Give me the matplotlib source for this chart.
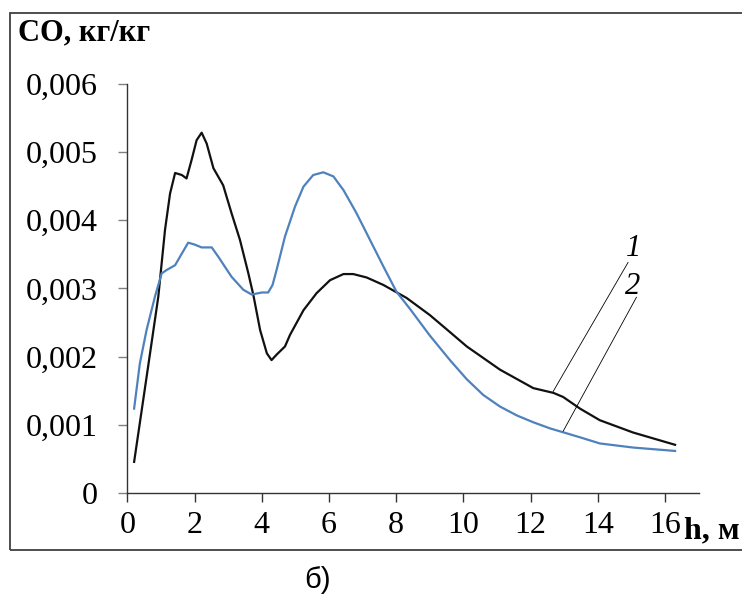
import matplotlib.pyplot as plt
from matplotlib.patches import Rectangle

# curve 1 (black)
h1 = [0.2, 0.6, 0.92, 1.12, 1.27, 1.42, 1.62, 1.76, 1.91, 2.06, 2.21, 2.36, 2.56,
      2.85, 3.10, 3.35, 3.60, 3.75, 3.95, 4.15, 4.29, 4.44, 4.69, 4.84, 5.24, 5.63,
      6.03, 6.43, 6.72, 7.12, 7.62, 8.31, 9.0, 9.6, 10.1, 11.09, 12.08, 12.68, 12.97,
      13.47, 14.06, 15.05, 16.3]
co1 = [0.00046, 0.0018, 0.00288, 0.00386, 0.00439, 0.00469, 0.00466, 0.00461, 0.00488,
       0.00517, 0.00528, 0.00512, 0.00476, 0.00451, 0.0041, 0.00371, 0.00322, 0.00290,
       0.00239, 0.00205, 0.00195, 0.00203, 0.00215, 0.00232, 0.00268, 0.00293, 0.00312,
       0.00321, 0.00321, 0.00316, 0.00305, 0.00286, 0.00261, 0.00236, 0.00215, 0.00181,
       0.00154, 0.00147, 0.00141, 0.00124, 0.00107, 0.00089, 0.00071]

# curve 2 (blue)
h2 = [0.2, 0.37, 0.57, 0.82, 1.02, 1.17, 1.42, 1.62, 1.81, 2.01, 2.21, 2.51, 2.71,
      3.10, 3.45, 3.70, 4.00, 4.19, 4.32, 4.44, 4.69, 4.99, 5.24, 5.53, 5.83, 6.13,
      6.43, 6.82, 7.22, 7.62, 8.01, 8.41, 9.0, 9.6, 10.1, 10.59, 11.09, 11.59, 12.08,
      12.58, 13.47, 14.06, 15.05, 16.3]
co2 = [0.00124, 0.0019, 0.00239, 0.00288, 0.00322, 0.00327, 0.00334, 0.00351, 0.00367,
       0.00364, 0.0036, 0.0036, 0.00346, 0.00317, 0.00298, 0.00291, 0.00294, 0.00294,
       0.00305, 0.00327, 0.00376, 0.0042, 0.00449, 0.00466, 0.0047, 0.00464, 0.00444,
       0.0041, 0.00371, 0.00332, 0.00295, 0.00270, 0.00231, 0.00195, 0.00167, 0.00144,
       0.00127, 0.00114, 0.00104, 0.00095, 0.00082, 0.00073, 0.00067, 0.00062]

xticks = [0, 2, 4, 6, 8, 10, 12, 14, 16]
yticks = [0, 0.001, 0.002, 0.003, 0.004, 0.005, 0.006]
ylabels = ['0', '0,001', '0,002', '0,003', '0,004', '0,005', '0,006']

plt.rcParams['font.family'] = ['Liberation Serif', 'DejaVu Serif']

fig = plt.figure(figsize=(7.42, 6.0), dpi=100)
ax = fig.add_axes([127.4 / 742, 1 - 493.3 / 600, 571.2 / 742, 409.8 / 600])

ax.plot(h1, co1, color='#111111', lw=1.6, solid_joinstyle='round')
ax.plot(h2, co2, color='#4F81BD', lw=1.6, solid_joinstyle='round')

# leader lines for the curve numbers
ax.plot([12.67, 14.9], [0.00149, 0.00338], color='black', lw=0.6)
ax.plot([12.97, 15.15], [0.00091, 0.00287], color='black', lw=0.6)
ax.text(15.05, 0.00358, '1', fontsize=22, style='italic', ha='center', va='center')
ax.text(15.05, 0.00303, '2', fontsize=22, style='italic', ha='center', va='center')

ax.set_xlim(0, 17)
ax.set_ylim(0, 0.006)
ax.set_xticks(xticks)
ax.set_xticklabels([str(t) for t in xticks])
ax.set_yticks(yticks)
ax.set_yticklabels(ylabels)
ax.tick_params(axis='y', length=6.5, width=1, color='#808080', pad=15, labelsize=23)
ax.tick_params(axis='x', length=6.5, width=1, color='#333333', pad=6, labelsize=23)
for s in ['top', 'right']:
    ax.spines[s].set_visible(False)
for s in ['left', 'bottom']:
    ax.spines[s].set_color('#333333')
    ax.spines[s].set_linewidth(1)

fig.text(18 / 742, 1 - 33 / 600, 'СО, кг/кг', fontsize=22, fontweight='bold',
         ha='left', va='center')
fig.text(684 / 742, 1 - 531 / 600, 'h, м', fontsize=23, fontweight='bold',
         ha='left', va='center')
fig.text(317 / 742, 1 - 580 / 600, 'б)', fontsize=21, family='Liberation Sans',
         ha='center', va='center')

# frame around the chart area
fig.patches.append(Rectangle((10 / 742, 1 - 550 / 600), 1.2, (550 - 13) / 600,
                             transform=fig.transFigure, fill=False,
                             edgecolor='#404040', lw=1.3))

fig.savefig('out.png', dpi=100)
